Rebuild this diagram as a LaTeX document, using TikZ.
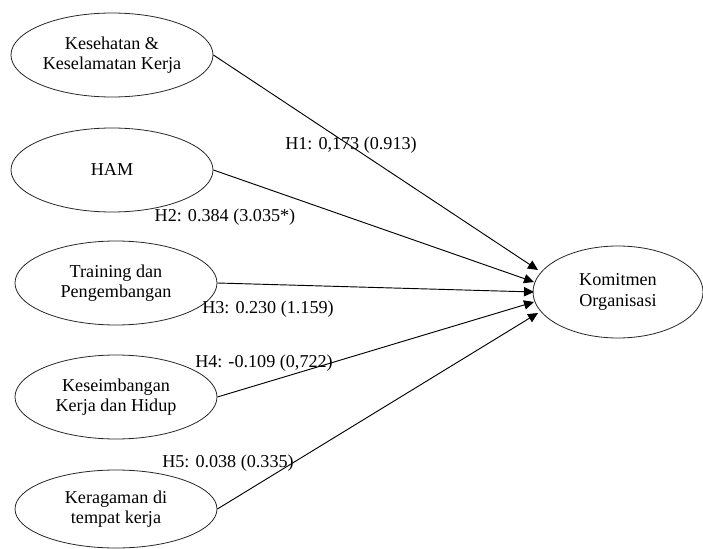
\documentclass[tikz,border=0pt]{standalone}
\usepackage{fontspec}
\setmainfont{Liberation Serif}
\usetikzlibrary{shapes.geometric,arrows.meta}
\begin{document}
\begin{tikzpicture}[x=0.75pt,y=-0.75pt,
  var/.style={ellipse,draw=black!85,line width=0.6pt,minimum width=151.5pt,minimum height=63pt,inner sep=0pt,align=center,font=\fontsize{13.6}{15.5}\selectfont},
  conn/.style={line width=0.7pt,-{Triangle[length=7.5pt,width=7pt]}},
  lbl/.style={font=\fontsize{13.6}{15.5}\selectfont,inner sep=0pt}]
\useasboundingbox (0,0) rectangle (703,549);
\node[var] (e1) at (112,55) {Kesehatan \&\\Keselamatan Kerja};
\node[var] (e2) at (112,170) {HAM};
\node[var] (e3) at (116,283) {Training dan\\Pengembangan};
\node[var] (e4) at (116,397) {Keseimbangan\\Kerja dan Hidup};
\node[var,minimum height=58.5pt] (e5) at (116,509) {Keragaman di\\tempat kerja};
\node[var,minimum width=127.5pt,minimum height=69pt] (k) at (618,292) {Komitmen\\Organisasi};
\coordinate (t1) at (538,270);
\coordinate (t2) at (534,282);
\coordinate (t3) at (534,292);
\coordinate (t4) at (534,302);
\coordinate (t5) at (538,313);
\draw[conn] (e1.east) -- (t1);
\draw[conn] (e2.east) -- (t2);
\draw[conn] (e3.east) -- (t3);
\draw[conn] (e4.east) -- (t4);
\draw[conn] (e5.east) -- (t5);
\node[lbl] (h1) at (351,145) {H1: 0,173 (0.913)};
\node[lbl] (h2) at (225,217) {H2: 0.384 (3.035*)};
\node[lbl] (h3) at (268,309) {H3: 0.230 (1.159)};
\node[lbl] (h4) at (264,363) {H4: -0.109 (0,722)};
\node[lbl] (h5) at (228,463) {H5: 0.038 (0.335)};
\end{tikzpicture}
\end{document}
